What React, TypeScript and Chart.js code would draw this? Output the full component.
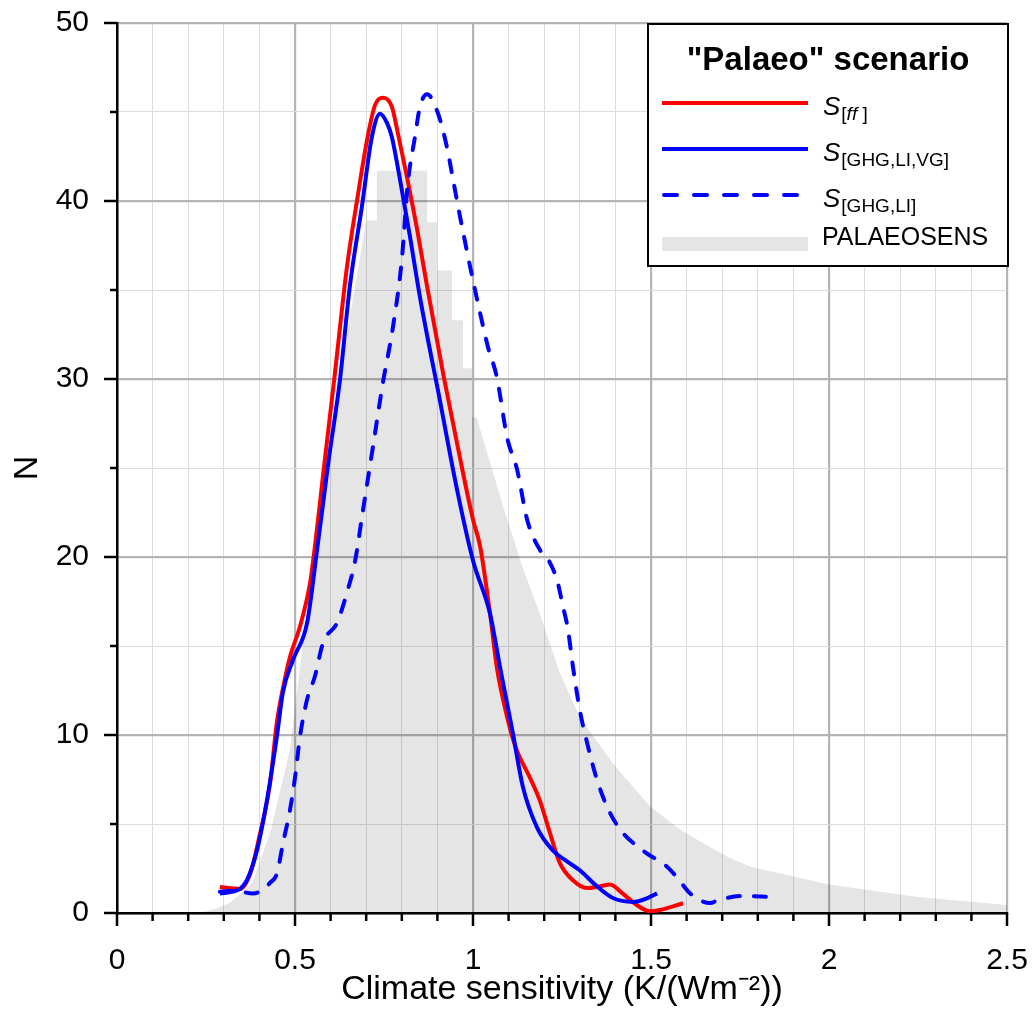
import React, { useEffect, useRef } from 'react';
import { Chart, registerables } from 'chart.js';

Chart.register(...registerables);

const FONT = '"Liberation Sans", Arial, Helvetica, sans-serif';

// Axis ticks
const xMajorTicks = [0, 0.5, 1, 1.5, 2, 2.5];
const xTickLabels = ['0', '0.5', '1', '1.5', '2', '2.5'];
const yMajorTicks = [0, 10, 20, 30, 40, 50];
const yTickLabels = ['0', '10', '20', '30', '40', '50'];

// S[ff] (red, solid)
const ffX = [0.289, 0.345, 0.374, 0.40, 0.43, 0.449, 0.47, 0.486, 0.514, 0.542, 0.556, 0.58, 0.612, 0.646, 0.674, 0.705, 0.725, 0.747, 0.772, 0.79, 0.815, 0.843, 0.871, 0.918, 0.96, 1.0, 1.02, 1.048, 1.067, 1.096, 1.12, 1.16, 1.188, 1.216, 1.244, 1.28, 1.32, 1.357, 1.385, 1.42, 1.46, 1.497, 1.525, 1.59];
const ffY = [1.46, 1.35, 2.2, 4.3, 7.3, 10.7, 13.0, 14.4, 16.1, 18.5, 20.6, 24.8, 30.3, 36.3, 40.0, 43.7, 45.4, 45.8, 45.3, 43.7, 41.3, 38.4, 35.2, 30.1, 25.9, 22.1, 20.6, 16.8, 13.8, 11.0, 9.3, 7.6, 6.3, 4.5, 2.8, 1.85, 1.4, 1.5, 1.6, 1.1, 0.45, 0.1, 0.17, 0.55];

// S[GHG,LI,VG] (blue, solid)
const ghgLiVgX = [0.289, 0.326, 0.345, 0.365, 0.393, 0.421, 0.449, 0.466, 0.494, 0.534, 0.562, 0.595, 0.626, 0.654, 0.688, 0.716, 0.739, 0.758, 0.772, 0.795, 0.823, 0.851, 0.907, 0.955, 1.0, 1.048, 1.076, 1.112, 1.14, 1.18, 1.225, 1.264, 1.30, 1.348, 1.393, 1.45, 1.49, 1.517];
const ghgLiVgY = [1.1, 1.2, 1.35, 1.85, 3.5, 6.3, 9.9, 12.4, 14.2, 16.3, 20.4, 25.5, 29.9, 35.2, 39.7, 43.6, 44.9, 44.4, 43.6, 41.2, 38.0, 34.6, 28.8, 23.8, 19.8, 16.8, 13.8, 10.1, 7.1, 4.8, 3.5, 2.9, 2.4, 1.5, 0.84, 0.62, 0.84, 1.1];

// S[GHG,LI] (blue, dashed)
const ghgLiX = [0.289, 0.326, 0.382, 0.41, 0.43, 0.449, 0.466, 0.486, 0.50, 0.514, 0.534, 0.556, 0.579, 0.618, 0.646, 0.669, 0.69, 0.719, 0.747, 0.775, 0.80, 0.817, 0.837, 0.851, 0.871, 0.902, 0.927, 0.944, 0.958, 0.992, 1.02, 1.042, 1.067, 1.096, 1.124, 1.152, 1.188, 1.207, 1.236, 1.253, 1.267, 1.281, 1.30, 1.32, 1.348, 1.376, 1.413, 1.478, 1.545, 1.573, 1.61, 1.666, 1.69, 1.76, 1.834];
const ghgLiY = [1.2, 1.25, 1.1, 1.3, 1.7, 2.2, 3.9, 5.8, 7.6, 9.9, 12.0, 13.3, 15.2, 16.3, 18.0, 19.8, 22.5, 26.2, 29.8, 32.9, 36.7, 41.0, 43.6, 45.3, 46.0, 44.9, 43.0, 41.2, 39.7, 36.3, 33.7, 31.8, 30.1, 26.7, 24.9, 22.1, 20.4, 20.0, 18.7, 17.2, 15.9, 13.8, 11.4, 9.6, 7.5, 6.0, 4.7, 3.5, 2.6, 2.0, 1.1, 0.56, 0.73, 0.96, 0.9];

// PALAEOSENS (grey area)
const palaeoX = [0.20, 0.24, 0.28, 0.32, 0.38, 0.43, 0.486, 0.52, 0.56, 0.60, 0.65, 0.70, 0.73, 0.73, 0.871, 0.871, 0.899, 0.899, 0.941, 0.941, 0.972, 0.972, 0.997, 0.997, 1.011, 1.048, 1.096, 1.14, 1.188, 1.244, 1.30, 1.393, 1.497, 1.58, 1.64, 1.72, 1.78, 2.0, 2.25, 2.5];
const palaeoY = [0, 0.05, 0.25, 0.6, 1.7, 4.5, 9.2, 14.8, 20.5, 26.5, 33.0, 38.9, 38.9, 41.7, 41.7, 38.8, 38.8, 36.1, 36.1, 33.3, 33.3, 30.6, 30.6, 27.9, 27.8, 25.3, 22.1, 19.4, 16.8, 13.5, 11.0, 8.4, 6.0, 4.7, 4.0, 3.1, 2.6, 1.6, 0.9, 0.45];

const RED = '#ff0000';
const BLUE = '#0000ff';
const GREY_FILL = 'rgba(0,0,0,0.1)';
const DASH = [12, 14];
const LW = 4;

const toPoints = (xs: number[], ys: number[]) => xs.map((x, i) => ({ x, y: ys[i] }));
const isMajorX = (v: number) => Math.abs(v * 2 - Math.round(v * 2)) < 1e-6;
const isMajorY = (v: number) => Math.abs(v / 10 - Math.round(v / 10)) < 1e-6;

const zeroPadding = (s: any) => {
  s.paddingTop = 0;
  s.paddingBottom = 0;
  s.paddingLeft = 0;
  s.paddingRight = 0;
};

const tickMarksPlugin = {
  id: 'tickMarks',
  afterDraw(chart: any) {
    const { ctx, chartArea } = chart;
    const xs = chart.scales.x;
    const ys = chart.scales.y;
    ctx.save();
    ctx.strokeStyle = '#000';
    ctx.lineWidth = 2.5;
    ctx.lineCap = 'butt';
    xs.ticks.forEach((t: any) => {
      const px = xs.getPixelForValue(t.value);
      const len = isMajorX(t.value) ? 13 : 8;
      ctx.beginPath();
      ctx.moveTo(px, chartArea.bottom);
      ctx.lineTo(px, chartArea.bottom + len);
      ctx.stroke();
    });
    ys.ticks.forEach((t: any) => {
      const py = ys.getPixelForValue(t.value);
      const len = isMajorY(t.value) ? 13 : 7;
      ctx.beginPath();
      ctx.moveTo(chartArea.left, py);
      ctx.lineTo(chartArea.left - len, py);
      ctx.stroke();
    });
    ctx.restore();
  },
};

const legendPlugin = {
  id: 'boxLegend',
  afterDraw(chart: any) {
    const { ctx, chartArea } = chart;
    const boxL = chartArea.right - 359;
    const boxR = chartArea.right + 1;
    const boxT = chartArea.top + 1;
    const boxB = chartArea.top + 243;
    ctx.save();
    ctx.fillStyle = '#fff';
    ctx.fillRect(boxL, boxT, boxR - boxL, boxB - boxT);
    ctx.strokeStyle = '#000';
    ctx.lineWidth = 2;
    ctx.strokeRect(boxL, boxT, boxR - boxL, boxB - boxT);

    ctx.fillStyle = '#000';
    ctx.textAlign = 'center';
    ctx.textBaseline = 'alphabetic';
    ctx.font = `bold 33px ${FONT}`;
    ctx.fillText('"Palaeo" scenario', (boxL + boxR) / 2, boxT + 46);

    const lx0 = boxL + 14;
    const lx1 = boxL + 160;
    const tx = boxL + 175;
    const rows = [
      { y: boxT + 79, color: RED, dash: [] as number[], sub: ['[', 'ff', ' ]'] },
      { y: boxT + 125, color: BLUE, dash: [] as number[], sub: ['[GHG,LI,VG]'] },
      { y: boxT + 171, color: BLUE, dash: [13, 17], sub: ['[GHG,LI]'] },
    ];
    rows.forEach((r) => {
      ctx.beginPath();
      ctx.strokeStyle = r.color;
      ctx.lineWidth = LW;
      ctx.setLineDash(r.dash);
      ctx.lineCap = r.dash.length ? 'round' : 'butt';
      ctx.moveTo(lx0 + (r.dash.length ? 2 : 0), r.y);
      ctx.lineTo(lx1, r.y);
      ctx.stroke();
      ctx.setLineDash([]);
      ctx.textAlign = 'left';
      ctx.fillStyle = '#000';
      ctx.font = `italic 26px ${FONT}`;
      ctx.fillText('S', tx, r.y + 12);
      let sx = tx + ctx.measureText('S').width + 1;
      r.sub.forEach((part) => {
        const italic = part === 'ff';
        ctx.font = `${italic ? 'italic ' : ''}19px ${FONT}`;
        ctx.fillText(part, sx, r.y + 17);
        sx += ctx.measureText(part).width;
      });
    });
    // grey band
    ctx.fillStyle = '#e6e6e6';
    ctx.fillRect(lx0, boxT + 213, lx1 - lx0, 14);
    ctx.fillStyle = '#000';
    ctx.font = `25px ${FONT}`;
    ctx.textAlign = 'left';
    ctx.fillText('PALAEOSENS', tx - 1, boxT + 221);
    ctx.restore();
  },
};

export default function App() {
  const canvasRef = useRef<HTMLCanvasElement | null>(null);

  useEffect(() => {
    if (!canvasRef.current) return;
    Chart.defaults.color = '#000';
    const chart = new Chart(canvasRef.current, {
      type: 'line',
      data: {
        datasets: [
          {
            label: 'S[GHG,LI]',
            data: toPoints(ghgLiX, ghgLiY),
            borderColor: BLUE,
            borderWidth: LW,
            borderDash: DASH,
            borderCapStyle: 'round',
            pointRadius: 0,
            fill: false,
            cubicInterpolationMode: 'monotone',
            order: 0,
          },
          {
            label: 'S[GHG,LI,VG]',
            data: toPoints(ghgLiVgX, ghgLiVgY),
            borderColor: BLUE,
            borderWidth: LW,
            pointRadius: 0,
            fill: false,
            cubicInterpolationMode: 'monotone',
            order: 1,
          },
          {
            label: 'S[ff]',
            data: toPoints(ffX, ffY),
            borderColor: RED,
            borderWidth: LW,
            pointRadius: 0,
            fill: false,
            cubicInterpolationMode: 'monotone',
            order: 2,
          },
          {
            label: 'PALAEOSENS',
            data: toPoints(palaeoX, palaeoY),
            borderWidth: 0,
            borderColor: 'rgba(0,0,0,0)',
            backgroundColor: GREY_FILL,
            pointRadius: 0,
            fill: 'origin',
            tension: 0,
            order: 3,
          },
        ] as any,
      },
      options: {
        responsive: false,
        maintainAspectRatio: false,
        animation: false,
        layout: { padding: { top: 23, right: 29, left: 0, bottom: 0 } },
        plugins: {
          legend: { display: false },
          tooltip: { enabled: false },
        },
        scales: {
          x: {
            type: 'linear',
            min: 0,
            max: 2.5,
            afterFit: (s: any) => {
              s.height = 105;
              zeroPadding(s);
            },
            ticks: {
              stepSize: 0.1,
              autoSkip: false,
              maxRotation: 0,
              padding: 30,
              color: '#000',
              font: { family: FONT, size: 30 },
              callback: (v: any) => {
                const i = xMajorTicks.findIndex((m) => Math.abs(m - Number(v)) < 1e-6);
                return i >= 0 ? xTickLabels[i] : '';
              },
            },
            grid: {
              drawTicks: false,
              color: (c: any) => (c.tick && isMajorX(c.tick.value) ? '#b4b4b4' : '#dcdcdc'),
              lineWidth: (c: any) => (c.tick && isMajorX(c.tick.value) ? 2.2 : 1),
            },
            border: { display: true, color: '#000', width: 2.5 },
            title: {
              display: true,
              text: 'Climate sensitivity (K/(Wm\u207B\u00B2))',
              color: '#000',
              font: { family: FONT, size: 34 },
              padding: { top: 0, bottom: 8 },
            },
          },
          y: {
            type: 'linear',
            min: 0,
            max: 50,
            afterFit: (s: any) => {
              s.width = 117;
              zeroPadding(s);
            },
            ticks: {
              stepSize: 5,
              autoSkip: false,
              padding: 28,
              color: '#000',
              font: { family: FONT, size: 30 },
              callback: (v: any) => {
                const i = yMajorTicks.findIndex((m) => Math.abs(m - Number(v)) < 1e-6);
                return i >= 0 ? yTickLabels[i] : '';
              },
            },
            grid: {
              drawTicks: false,
              color: (c: any) => (c.tick && isMajorY(c.tick.value) ? '#b4b4b4' : '#dcdcdc'),
              lineWidth: (c: any) => (c.tick && isMajorY(c.tick.value) ? 2.2 : 1),
            },
            border: { display: true, color: '#000', width: 2.5 },
            title: {
              display: true,
              text: 'N',
              color: '#000',
              font: { family: FONT, size: 34 },
              padding: { top: 7, bottom: 0 },
            },
          },
        },
      } as any,
      plugins: [tickMarksPlugin, legendPlugin],
    });
    return () => chart.destroy();
  }, []);

  return (
    <div style={{ position: 'absolute', left: 0, top: 0, width: 1036, height: 1018, background: '#fff' }}>
      <canvas ref={canvasRef} width={1036} height={1018} style={{ display: 'block', width: 1036, height: 1018 }} />
    </div>
  );
}
